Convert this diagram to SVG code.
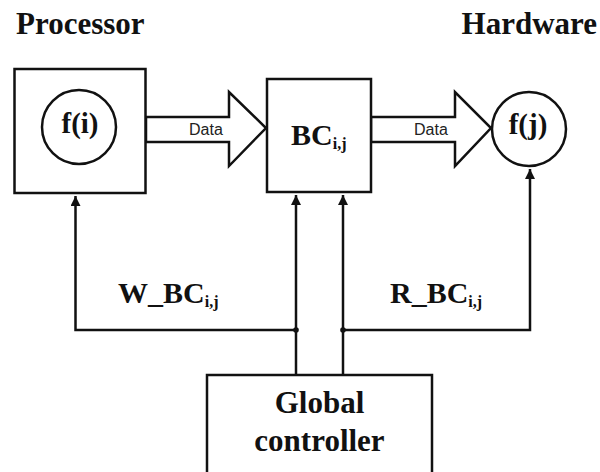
<svg xmlns="http://www.w3.org/2000/svg" width="600" height="472" viewBox="0 0 600 472">
<defs>
<style>
.t{font-family:'Liberation Serif','Times New Roman',Times,serif;font-weight:bold;fill:#111}
.box{fill:#fff;stroke:#111;stroke-width:2.5}
.ln{fill:none;stroke:#111;stroke-width:2.5}
.data{font-family:'Liberation Sans',Arial,sans-serif;font-size:16px;fill:#222}
</style>
<marker id="ah" viewBox="0 0 10 10" refX="10" refY="5" markerWidth="4" markerHeight="4" orient="auto" markerUnits="strokeWidth">
<path d="M0,0 L10,5 L0,10 Z" fill="#111"/>
</marker>
</defs>
<rect width="600" height="472" fill="#fff"/>
<text class="t" x="16" y="34" font-size="31">Processor</text>
<text class="t" x="597" y="34" font-size="31" text-anchor="end">Hardware</text>

<g id="connectors">
<polygon class="ln" points="146,117 229,117 229,92 266,128 229,166 229,142 146,142" style="fill:#fff"/>
<polygon class="ln" points="371,117 455,117 455,92 491,128 455,166 455,142 371,142" style="fill:#fff"/>
<text class="data" x="189" y="135">Data</text>
<text class="data" x="414" y="135">Data</text>
<path class="ln" d="M296,330 H75.5 V196" marker-end="url(#ah)"/>
<path class="ln" d="M343,330 H530 V169" marker-end="url(#ah)"/>
<path class="ln" d="M296,375 V195" marker-end="url(#ah)"/>
<path class="ln" d="M343,375 V195" marker-end="url(#ah)"/>
<circle cx="296" cy="330" r="2.8" fill="#111"/>
<circle cx="343" cy="330" r="2.8" fill="#111"/>
<text class="t" x="118" y="303" font-size="30">W_BC<tspan font-size="16" dy="4">i,j</tspan></text>
<text class="t" x="390" y="303" font-size="30">R_BC<tspan font-size="16" dy="4">i,j</tspan></text>
</g>

<g id="processor">
<rect class="box" x="14.5" y="69" width="131" height="124"/>
<g id="fi">
<circle class="box" cx="79" cy="127" r="37"/>
<text class="t" x="80" y="133" font-size="29" text-anchor="middle">f(i)</text>
</g>
</g>

<g id="bc">
<rect class="box" x="267" y="79" width="104" height="113"/>
<text class="t" x="291" y="145" font-size="30">BC<tspan font-size="16" dy="4">i,j</tspan></text>
</g>

<g id="fj">
<circle class="box" cx="529" cy="129" r="37"/>
<text class="t" x="528" y="134" font-size="29" text-anchor="middle">f(j)</text>
</g>

<g id="global">
<rect class="box" x="207" y="375" width="225" height="110"/>
<text class="t" x="319.5" y="413" font-size="31" text-anchor="middle">Global</text>
<text class="t" x="319.5" y="451" font-size="31" text-anchor="middle">controller</text>
</g>
</svg>
